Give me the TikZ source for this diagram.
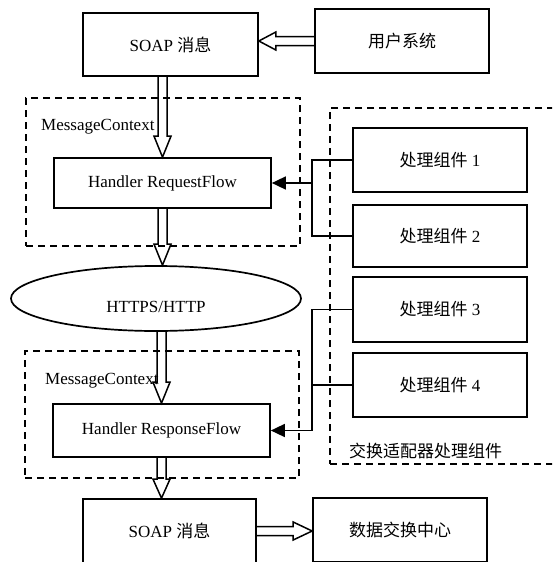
\documentclass[tikz,border=0pt]{standalone}
\usepackage{fontspec}
\setmainfont{Liberation Serif}
\newfontfamily\cjk{Noto Sans CJK SC}
\usetikzlibrary{calc,shapes.geometric,arrows.meta}
\begin{document}
\begin{tikzpicture}[x=1pt,y=-1pt,
  box/.style={draw,line width=1.7pt,inner sep=0pt,font=\fontsize{17}{20}\selectfont},
  dashbox/.style={draw,line width=1.9pt,dash pattern=on 7pt off 5pt,inner sep=0pt},
  conn/.style={line width=1.6pt},
  tri/.style={-{Triangle[length=14pt,width=13pt]}},
  fat/.style={draw,line width=1.5pt,line join=miter},
  lab/.style={anchor=west,inner sep=0pt,font=\fontsize{17}{20}\selectfont}]
\useasboundingbox (0,0) rectangle (552,562);
\clip (0,0) rectangle (552,562);

% dashed containers
\node[dashbox,minimum width=274pt,minimum height=148pt] (ctx1) at (163,172) {};
\node[dashbox,minimum width=274pt,minimum height=127pt] (ctx2) at (162,414.5) {};
\node[dashbox,minimum width=270pt,minimum height=356pt] (grp) at (465,286) {};

% labels
\node[lab] (lab1) at (41,127) {MessageContext};
\node[lab] (lab2) at (45,381) {MessageContext};
\node[lab] (grplab) at (349,451) {\cjk 交换适配器处理组件};

% boxes
\node[box,minimum width=175pt,minimum height=63pt] (soap1) at (170.5,44.5) {SOAP {\cjk 消息}};
\node[box,minimum width=174pt,minimum height=64pt] (user) at (402,41) {\cjk 用户系统};
\node[box,minimum width=217pt,minimum height=50pt] (hrq) at (162.5,183) {Handler RequestFlow};
\node[box,minimum width=174pt,minimum height=64pt] (proc1) at (440,160) {{\cjk 处理组件} 1};
\node[box,minimum width=174pt,minimum height=62pt] (proc2) at (440,236) {{\cjk 处理组件} 2};
\node[box,minimum width=174pt,minimum height=65pt] (proc3) at (440,309.5) {{\cjk 处理组件} 3};
\node[box,minimum width=174pt,minimum height=64pt] (proc4) at (440,385) {{\cjk 处理组件} 4};
\node[box,ellipse,minimum width=290pt,minimum height=65pt,text height=27pt,text depth=0pt] (http) at (156,298.5) {HTTPS/HTTP};
\node[box,minimum width=217pt,minimum height=53pt] (hrs) at (161.5,430.5) {Handler ResponseFlow};
\node[box,minimum width=173pt,minimum height=64pt] (soap2) at (169.5,531) {SOAP {\cjk 消息}};
\node[box,minimum width=174pt,minimum height=64pt] (dx) at (400,530) {\cjk 数据交换中心};

% connectors from the processing components
\coordinate (bus1) at (312,183);
\coordinate (bus2) at (312,430.5);
\draw[conn] (proc1.west) -| (bus1);
\draw[conn] (proc2.west) -| (bus1);
\draw[conn,tri] (bus1) -- (hrq.east);
\draw[conn] (proc3.west) -| (bus2);
\draw[conn] (proc4.west) -- (proc4.west -| bus2);
\draw[conn,tri] (bus2) -- (hrs.east);

% hollow block arrows
\path[fat] let \p1=(user.west), \p2=(soap1.east |- user.west) in
  (\x1,\y1+4.5pt) -- (\x2+17pt,\y1+4.5pt) -- (\x2+17pt,\y1+9pt) -- (\x2,\y1)
  -- (\x2+17pt,\y1-9pt) -- (\x2+17pt,\y1-4.5pt) -- (\x1,\y1-4.5pt);
\path[fat] let \p1=(hrq.north |- soap1.south), \p2=(hrq.north) in
  (\x1-4.5pt,\y1) -- (\x1-4.5pt,\y2+21pt) -- (\x1-8.5pt,\y2+21pt) -- (\x1,\y2)
  -- (\x1+8.5pt,\y2+21pt) -- (\x1+4.5pt,\y2+21pt) -- (\x1+4.5pt,\y1);
\path[fat] let \p1=(hrq.south), \p2=(hrq.south |- http.north) in
  (\x1-4.5pt,\y1) -- (\x1-4.5pt,\y2+21pt) -- (\x1-8.5pt,\y2+21pt) -- (\x1,\y2)
  -- (\x1+8.5pt,\y2+21pt) -- (\x1+4.5pt,\y2+21pt) -- (\x1+4.5pt,\y1);
\path[fat] let \p1=(hrs.north |- http.south), \p2=(hrs.north) in
  (\x1-4.5pt,\y1) -- (\x1-4.5pt,\y2+21pt) -- (\x1-8.5pt,\y2+21pt) -- (\x1,\y2)
  -- (\x1+8.5pt,\y2+21pt) -- (\x1+4.5pt,\y2+21pt) -- (\x1+4.5pt,\y1);
\path[fat] let \p1=(hrs.south), \p2=(hrs.south |- soap2.north) in
  (\x1-4.5pt,\y1) -- (\x1-4.5pt,\y2+19pt) -- (\x1-8.5pt,\y2+19pt) -- (\x1,\y2)
  -- (\x1+8.5pt,\y2+19pt) -- (\x1+4.5pt,\y2+19pt) -- (\x1+4.5pt,\y1);
\path[fat] let \p1=(soap2.east), \p2=(dx.west |- soap2.east) in
  (\x1,\y1+4.5pt) -- (\x2-19pt,\y1+4.5pt) -- (\x2-19pt,\y1+9pt) -- (\x2,\y1)
  -- (\x2-19pt,\y1-9pt) -- (\x2-19pt,\y1-4.5pt) -- (\x1,\y1-4.5pt);
\end{tikzpicture}
\end{document}
